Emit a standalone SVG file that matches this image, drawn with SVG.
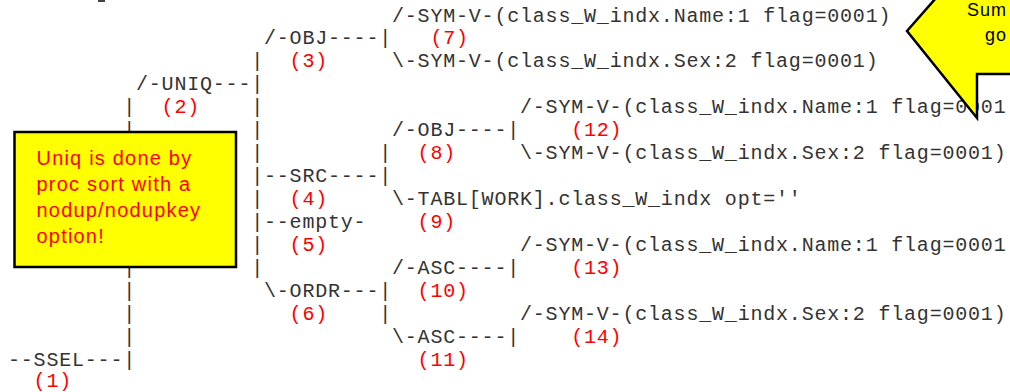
<svg xmlns="http://www.w3.org/2000/svg" width="1010" height="392" viewBox="0 0 1010 392">
<style>
.t{font-family:"Liberation Mono","DejaVu Sans Mono",monospace;font-size:20px;letter-spacing:0.8px;fill:#333}
.n{font-family:"Liberation Mono","DejaVu Sans Mono",monospace;font-size:20px;letter-spacing:0.8px;fill:#ff0000}
.box{fill:#ffff00;stroke:#000;stroke-width:2.5;stroke-linejoin:miter}
.ct{font-family:"Liberation Sans",Arial,sans-serif;font-size:20px;letter-spacing:1.2px;fill:#ff0000}
.ct2{font-family:"Liberation Sans",Arial,sans-serif;font-size:18px;letter-spacing:1px;fill:#000}
</style>
<rect width="1010" height="392" fill="#fff"/>
<rect x="98" y="0" width="7" height="2" fill="#444"/>
<g id="connectors" class="t">
<text x="123.2" y="113.2">|</text>
<text x="123.2" y="136.2">|</text>
<text x="123.2" y="273.7">|</text>
<text x="123.2" y="296.7">|</text>
<text x="123.2" y="319.6">|</text>
<text x="123.2" y="342.5">|</text>
<text x="251.2" y="67.4">|</text>
<text x="251.2" y="113.2">|</text>
<text x="251.2" y="136.2">|</text>
<text x="251.2" y="159.1">|</text>
<text x="251.2" y="182">|</text>
<text x="251.2" y="204.9">|</text>
<text x="251.2" y="227.9">|</text>
<text x="251.2" y="250.8">|</text>
<text x="251.2" y="273.7">|</text>
<text x="379.2" y="159.1">|</text>
<text x="379.2" y="319.6">|</text>
</g>
<g id="n1"><text class="t" x="8" y="365.5">--SSEL---|</text><text class="n" x="33.6" y="386.8">(1)</text></g>
<g id="n2"><text class="t" x="136" y="90.3">/-UNIQ---|</text><text class="n" x="161.6" y="113.2">(2)</text></g>
<g id="n3"><text class="t" x="264" y="44.4">/-OBJ----|</text><text class="n" x="289.6" y="67.4">(3)</text></g>
<g id="n4"><text class="t" x="264" y="182">--SRC----|</text><text class="n" x="289.6" y="204.9">(4)</text></g>
<g id="n5"><text class="t" x="264" y="227.9">--empty-</text><text class="n" x="289.6" y="250.8">(5)</text></g>
<g id="n6"><text class="t" x="264" y="296.7">\-ORDR---|</text><text class="n" x="289.6" y="319.6">(6)</text></g>
<g id="n7"><text class="t" x="392" y="21.5">/-SYM-V-(class_W_indx.Name:1 flag=0001)</text><text class="n" x="430.4" y="44.4">(7)</text></g>
<g id="n7s"><text class="t" x="392" y="67.4">\-SYM-V-(class_W_indx.Sex:2 flag=0001)</text></g>
<g id="n8"><text class="t" x="392" y="136.2">/-OBJ----|</text><text class="n" x="417.6" y="159.1">(8)</text></g>
<g id="n9"><text class="t" x="392" y="204.9">\-TABL[WORK].class_W_indx opt=''</text><text class="n" x="417.6" y="227.9">(9)</text></g>
<g id="n10"><text class="t" x="392" y="273.7">/-ASC----|</text><text class="n" x="417.6" y="296.7">(10)</text></g>
<g id="n11"><text class="t" x="392" y="342.5">\-ASC----|</text><text class="n" x="417.6" y="365.5">(11)</text></g>
<g id="n12"><text class="t" x="520" y="113.2">/-SYM-V-(class_W_indx.Name:1 flag=0001</text><text class="n" x="571.2" y="136.2">(12)</text></g>
<g id="n12s"><text class="t" x="520" y="159.1">\-SYM-V-(class_W_indx.Sex:2 flag=0001)</text></g>
<g id="n13"><text class="t" x="520" y="250.8">/-SYM-V-(class_W_indx.Name:1 flag=0001</text><text class="n" x="571.2" y="273.7">(13)</text></g>
<g id="n14"><text class="t" x="520" y="319.6">/-SYM-V-(class_W_indx.Sex:2 flag=0001)</text><text class="n" x="571.2" y="342.5">(14)</text></g>
<g id="note-uniq">
<rect class="box" x="14.5" y="132" width="221.5" height="135"/>
<text class="ct" x="36.5" y="165">Uniq is done by</text>
<text class="ct" x="36.5" y="191">proc sort with a</text>
<text class="ct" x="36.5" y="217">nodup/nodupkey</text>
<text class="ct" x="36.5" y="243">option!</text>
</g>
<g id="note-sum">
<polygon class="box" points="936,-2 907,31 977,118 977,74 1013,74 1013,-2"/>
<text class="ct2" x="967" y="15.5">Sum</text>
<text class="ct2" x="985" y="41">go</text>
</g>
</svg>
